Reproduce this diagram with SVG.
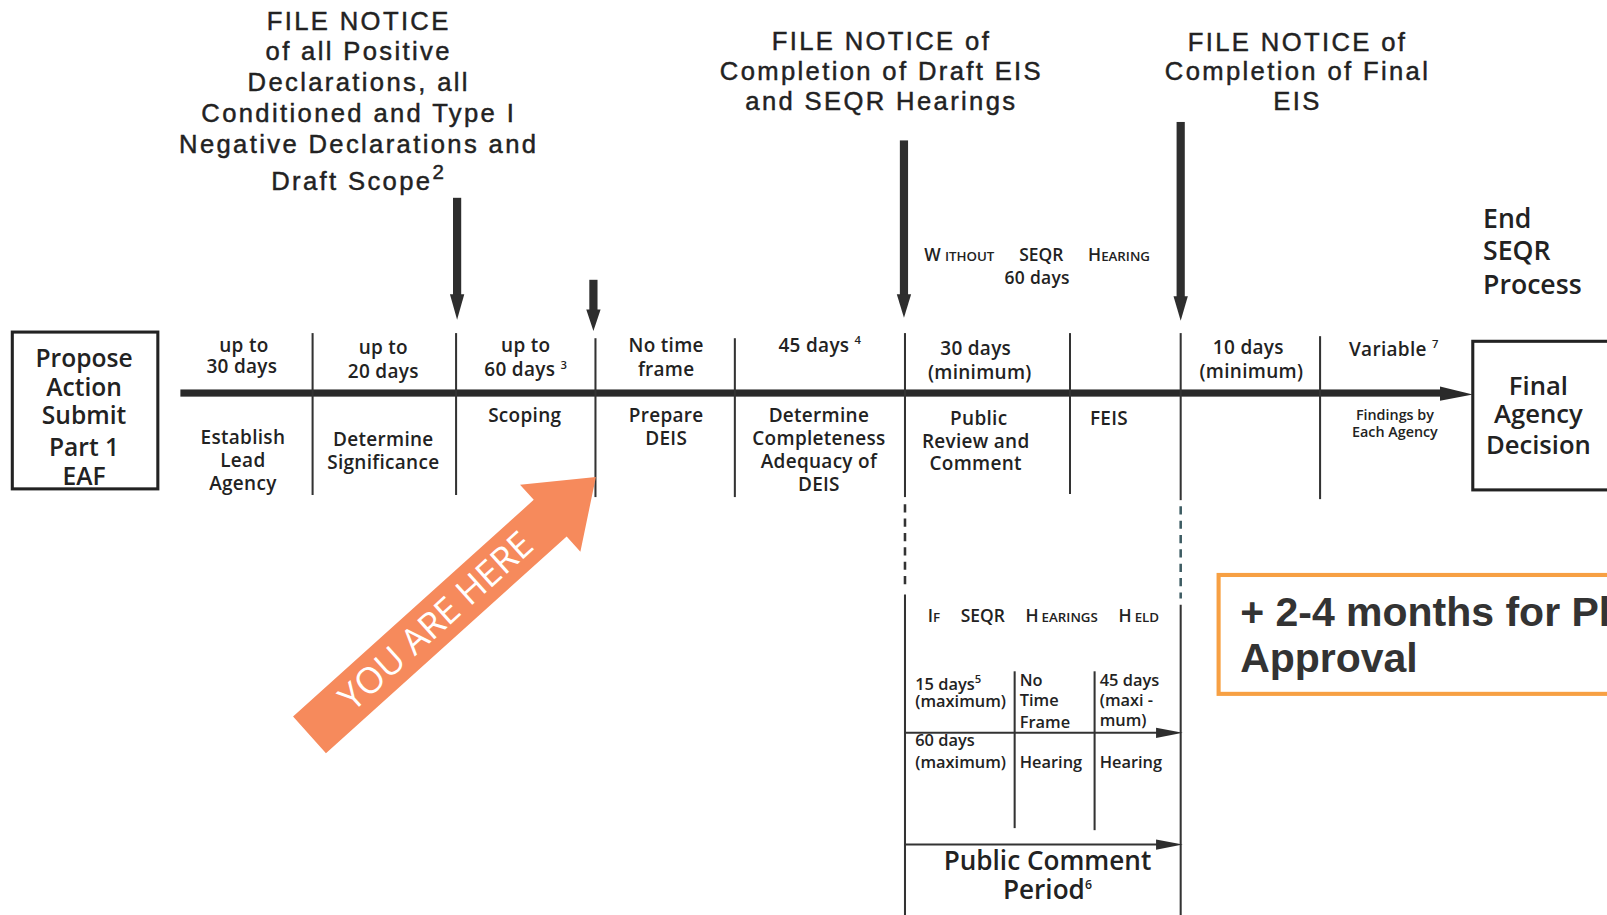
<svg xmlns="http://www.w3.org/2000/svg" width="1607" height="915" viewBox="0 0 1607 915">
<style>
.hd{font-family:"Liberation Sans",Arial,sans-serif;font-size:25px;letter-spacing:2.3px;fill:#222;stroke:#222;stroke-width:0.45px;text-anchor:middle}
.tl{font-family:"Open Sans","Noto Sans",sans-serif;font-size:18.5px;font-weight:600;fill:#222;text-anchor:middle;letter-spacing:0.3px}
.big{font-family:"Open Sans","Noto Sans",sans-serif;font-size:25px;font-weight:600;fill:#222}
.sm{font-family:"Open Sans","Noto Sans",sans-serif;font-size:16px;font-weight:600;fill:#222}
.sc{font-family:"Open Sans","Noto Sans",sans-serif;font-weight:600;fill:#222}
.div{stroke:#333;stroke-width:2;fill:none}
.dash{stroke:#333;stroke-width:2.5;stroke-dasharray:8 6;fill:none}
.box{fill:#fff;stroke:#222;stroke-width:3}
.ar{fill:#2e2e2e}
</style>
<rect width="1607" height="915" fill="#fff"/>
<g transform="scale(1.0249)">

<g id="headings">
<text class="hd" x="350" y="29">FILE NOTICE</text>
<text class="hd" x="350" y="59">of all Positive</text>
<text class="hd" x="350" y="89">Declarations, all</text>
<text class="hd" x="350" y="119">Conditioned and Type I</text>
<text class="hd" x="350" y="149">Negative Declarations and</text>
<text class="hd" x="350" y="185">Draft Scope<tspan font-size="20" dy="-10">2</tspan></text>
<text class="hd" x="860" y="49">FILE NOTICE of</text>
<text class="hd" x="860" y="78">Completion of Draft EIS</text>
<text class="hd" x="860" y="107">and SEQR Hearings</text>
<text class="hd" x="1266" y="50">FILE NOTICE of</text>
<text class="hd" x="1266" y="78">Completion of Final</text>
<text class="hd" x="1266" y="107">EIS</text>
</g>

<g id="connectors">
<rect x="176" y="380" width="1234" height="7" fill="#2a2a2a"/>
<polygon points="1405,377 1437,385 1405,391" fill="#2a2a2a"/>
<rect class="ar" x="442" y="193" width="8" height="97"/>
<polygon class="ar" points="439,287 453,287 446,312"/>
<rect class="ar" x="575" y="273" width="8" height="32"/>
<polygon class="ar" points="572,302 586,302 579,323"/>
<rect class="ar" x="878" y="137" width="8" height="153"/>
<polygon class="ar" points="875,287 889,287 882,310"/>
<rect class="ar" x="1148" y="119" width="8" height="172"/>
<polygon class="ar" points="1145,289 1159,289 1152,313"/>
<line class="div" x1="305" y1="325" x2="305" y2="483"/>
<line class="div" x1="445" y1="325" x2="445" y2="483"/>
<line class="div" x1="581" y1="330" x2="581" y2="485"/>
<line class="div" x1="717" y1="330" x2="717" y2="485"/>
<line class="div" x1="883" y1="325" x2="883" y2="485"/>
<line class="dash" x1="883" y1="492" x2="883" y2="576"/>
<line class="div" x1="883" y1="580" x2="883" y2="900"/>
<line class="div" x1="1044" y1="325" x2="1044" y2="482"/>
<line class="div" x1="1152" y1="325" x2="1152" y2="488"/>
<line class="dash" x1="1152" y1="494" x2="1152" y2="584" style="stroke:#3d5c63"/>
<line class="div" x1="1152" y1="590" x2="1152" y2="900"/>
<line class="div" x1="1288" y1="328" x2="1288" y2="487"/>
<line class="div" x1="990" y1="655" x2="990" y2="808"/>
<line class="div" x1="1068" y1="655" x2="1068" y2="810"/>
<line class="div" x1="883" y1="715" x2="1134" y2="715"/>
<polygon class="ar" points="1128,710 1154,715 1128,720"/>
<line class="div" x1="883" y1="824" x2="1134" y2="824"/>
<polygon class="ar" points="1128,819 1154,824 1128,829"/>
</g>

<g id="start">
<rect class="box" x="12" y="324" width="142" height="153"/>
<text class="big" x="82" y="358" text-anchor="middle" style="font-size:24px">Propose</text>
<text class="big" x="82" y="386" text-anchor="middle" style="font-size:24px">Action</text>
<text class="big" x="82" y="414" text-anchor="middle" style="font-size:24px">Submit</text>
<text class="big" x="82" y="445" text-anchor="middle" style="font-size:24px">Part 1</text>
<text class="big" x="82" y="473" text-anchor="middle" style="font-size:24px">EAF</text>
</g>

<g id="col1">
<text class="tl" x="238" y="343">up to</text>
<text class="tl" x="236" y="364">30 days</text>
<text class="tl" x="237" y="433">Establish</text>
<text class="tl" x="237" y="456">Lead</text>
<text class="tl" x="237" y="478">Agency</text>
</g>
<g id="col2">
<text class="tl" x="374" y="345">up to</text>
<text class="tl" x="374" y="369">20 days</text>
<text class="tl" x="374" y="435">Determine</text>
<text class="tl" x="374" y="458">Significance</text>
</g>
<g id="col3">
<text class="tl" x="513" y="343">up to</text>
<text class="tl" x="513" y="367">60 days <tspan font-size="11" dy="-7">3</tspan></text>
<text class="tl" x="512" y="412">Scoping</text>
</g>
<g id="col4">
<text class="tl" x="650" y="343">No time</text>
<text class="tl" x="650" y="367">frame</text>
<text class="tl" x="650" y="412">Prepare</text>
<text class="tl" x="650" y="434">DEIS</text>
</g>
<g id="col5">
<text class="tl" x="800" y="343">45 days <tspan font-size="11" dy="-7">4</tspan></text>
<text class="tl" x="799" y="412">Determine</text>
<text class="tl" x="799" y="434">Completeness</text>
<text class="tl" x="799" y="457">Adequacy of</text>
<text class="tl" x="799" y="479">DEIS</text>
</g>
<g id="col6">
<text class="tl" x="952" y="346">30 days</text>
<text class="tl" x="956" y="370">(minimum)</text>
<text class="tl" x="955" y="415">Public</text>
<text class="tl" x="952" y="437">Review and</text>
<text class="tl" x="952" y="459">Comment</text>
</g>
<g id="col7">
<text class="tl" x="1082" y="415">FEIS</text>
</g>
<g id="col8">
<text class="tl" x="1218" y="345">10 days</text>
<text class="tl" x="1221" y="369">(minimum)</text>
</g>
<g id="col9">
<text class="tl" x="1360" y="347">Variable <tspan font-size="11" dy="-7">7</tspan></text>
<text class="tl" x="1361" y="410" style="font-size:14px;letter-spacing:0">Findings by</text>
<text class="tl" x="1361" y="426" style="font-size:14px;letter-spacing:0">Each Agency</text>
</g>

<g id="without-hearing">
<text class="sc" x="1012" y="255" text-anchor="middle" word-spacing="20"><tspan font-size="17">W</tspan><tspan font-size="13" dx="4">ITHOUT</tspan> <tspan font-size="17">SEQR</tspan> <tspan font-size="17">H</tspan><tspan font-size="13">EARING</tspan></text>
<text class="tl" x="1012" y="277" style="font-size:17px">60 days</text>
</g>

<g id="end">
<text class="big" x="1447" y="222" style="font-size:26px">End</text>
<text class="big" x="1447" y="254" style="font-size:26px">SEQR</text>
<text class="big" x="1447" y="287" style="font-size:26px">Process</text>
</g>

<g id="final">
<rect class="box" x="1437" y="333" width="200" height="145"/>
<text class="big" x="1501" y="385" text-anchor="middle">Final</text>
<text class="big" x="1501" y="413" text-anchor="middle">Agency</text>
<text class="big" x="1501" y="443" text-anchor="middle">Decision</text>
</g>

<g id="hearings">
<text class="sc" x="1018" y="607" text-anchor="middle" word-spacing="16"><tspan font-size="17">I</tspan><tspan font-size="13">F</tspan> <tspan font-size="17">SEQR</tspan> <tspan font-size="17">H</tspan><tspan font-size="13" dx="3">EARINGS</tspan> <tspan font-size="17">H</tspan><tspan font-size="13" dx="3">ELD</tspan></text>
<text class="sm" x="893" y="673">15  days<tspan font-size="11" dy="-7">5</tspan></text>
<text class="sm" x="893" y="690">(maximum)</text>
<text class="sm" x="995" y="669">No</text>
<text class="sm" x="995" y="689">Time</text>
<text class="sm" x="995" y="710">Frame</text>
<text class="sm" x="1073" y="669">45 days</text>
<text class="sm" x="1073" y="689">(maxi -</text>
<text class="sm" x="1073" y="708">mum)</text>
<text class="sm" x="893" y="728">60 days</text>
<text class="sm" x="893" y="749">(maximum)</text>
<text class="sm" x="995" y="749">Hearing</text>
<text class="sm" x="1073" y="749">Hearing</text>
<text class="big" x="1022" y="849" text-anchor="middle" style="font-size:25.5px">Public Comment</text>
<text class="big" x="1022" y="877" text-anchor="middle" style="font-size:25.5px">Period<tspan font-size="12" dy="-10">6</tspan></text>
</g>

<g id="you-are-here" transform="translate(302,717) rotate(-42)">
<polygon points="0,-24 316,-24 316,-44 376,0 316,44 316,24 0,24" fill="#F68A5C"/>
<text x="166" y="12" text-anchor="middle" font-family="'Open Sans','Noto Sans',sans-serif" font-size="35" fill="#fff">YOU ARE HERE</text>
</g>

<g id="approval">
<rect x="1189" y="561" width="440" height="116" fill="#fff" stroke="#F7A043" stroke-width="4"/>
<text x="1210" y="611" font-family="'Liberation Sans',Arial,sans-serif" font-size="40" font-weight="bold" fill="#333">+ 2-4 months for Pl</text>
<text x="1210" y="656" font-family="'Liberation Sans',Arial,sans-serif" font-size="40" font-weight="bold" fill="#333">Approval</text>
</g>
</g>
</svg>
